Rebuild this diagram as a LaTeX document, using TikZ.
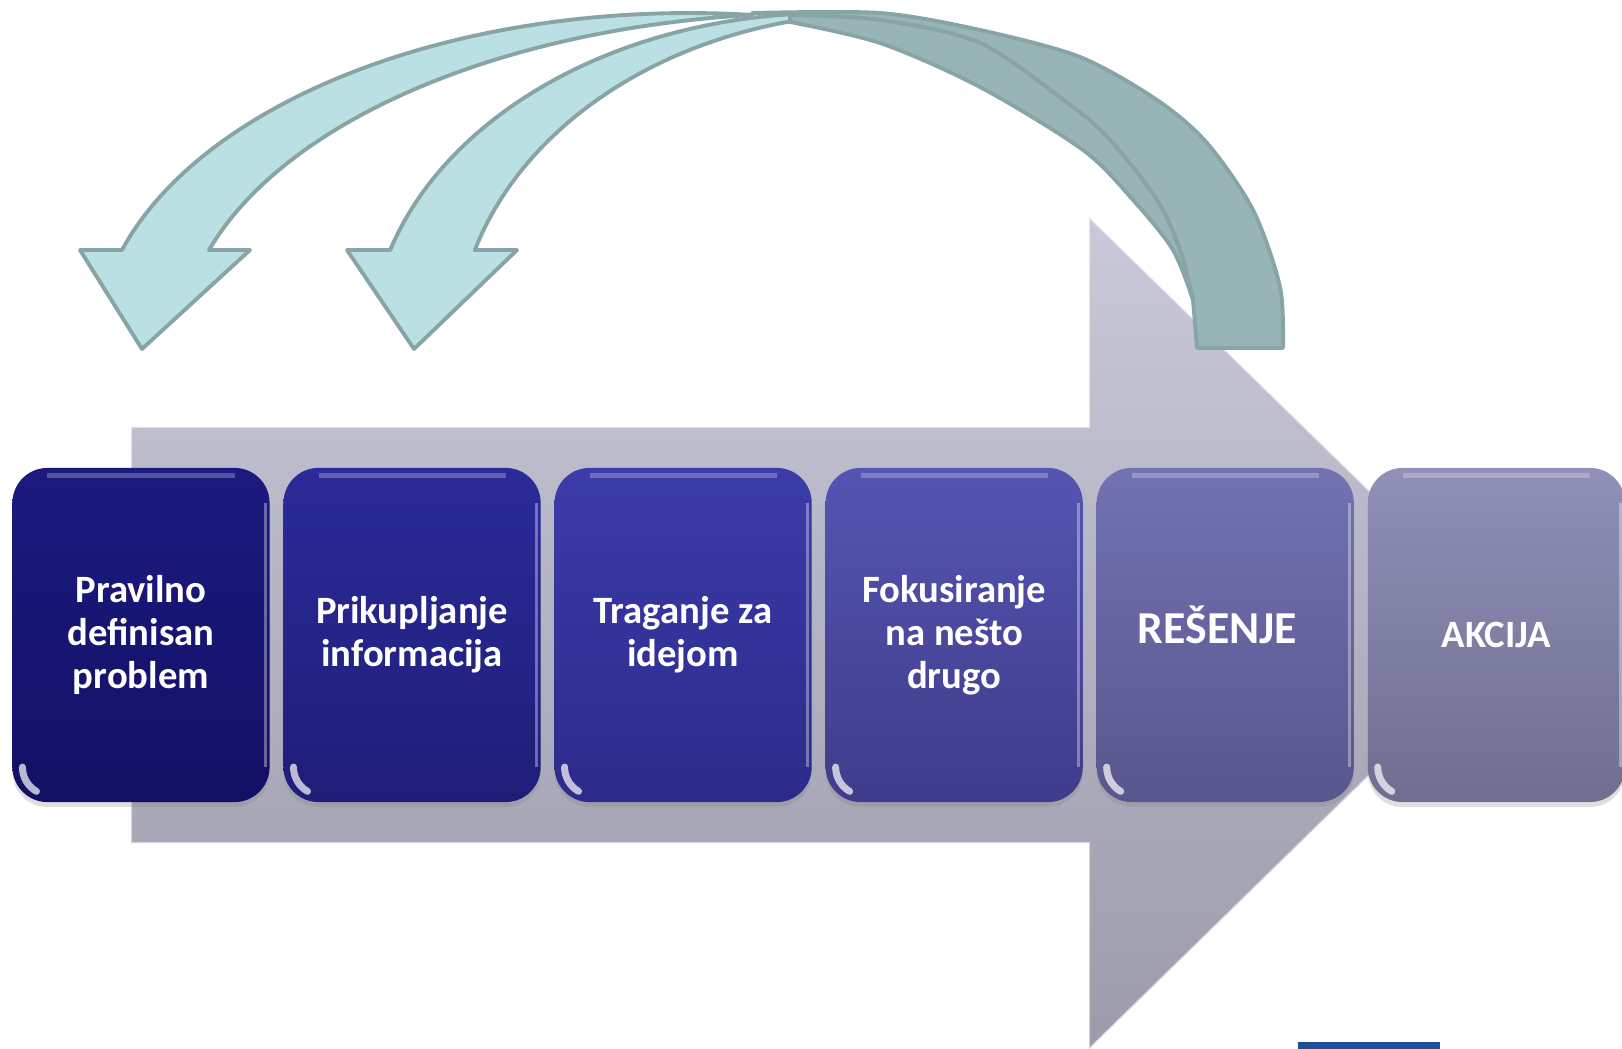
\documentclass[tikz,border=0pt]{standalone}
\usepackage{fontspec}
\setmainfont{Carlito}
\usetikzlibrary{positioning,shadows}

\definecolor{bandlight}{HTML}{BBE0E3}
\definecolor{banddark}{HTML}{97B4B6}
\definecolor{bandline}{HTML}{88A4A7}
\definecolor{flowtop}{HTML}{C9C9D9}
\definecolor{flowbot}{HTML}{9C9BAB}
\definecolor{barblue}{HTML}{1B4F9E}
\definecolor{stepAtop}{HTML}{1C1A80}\definecolor{stepAbot}{HTML}{121064}
\definecolor{stepBtop}{HTML}{2B2B99}\definecolor{stepBbot}{HTML}{1F1D78}
\definecolor{stepCtop}{HTML}{3C3CAA}\definecolor{stepCbot}{HTML}{2C2A8A}
\definecolor{stepDtop}{HTML}{5555B2}\definecolor{stepDbot}{HTML}{3E3C8A}
\definecolor{stepEtop}{HTML}{7372B2}\definecolor{stepEbot}{HTML}{57568E}
\definecolor{stepFtop}{HTML}{9090B8}\definecolor{stepFbot}{HTML}{6F6E90}

\tikzset{
  stepbox/.style={rounded corners=0.35cm, minimum width=2.57cm, minimum height=3.34cm,
    align=center, text=white, font=\bfseries\fontsize{11}{12.3}\selectfont,
    drop shadow={shadow xshift=0pt, shadow yshift=-0.05cm, opacity=0.25},
    path picture={
      \draw[white, opacity=0.25, line width=0.05cm]
        ([xshift=0.35cm, yshift=-0.08cm]path picture bounding box.north west) --
        ([xshift=-0.35cm, yshift=-0.08cm]path picture bounding box.north east);
      \draw[white, opacity=0.35, line width=0.03cm]
        ([xshift=-0.04cm, yshift=-0.35cm]path picture bounding box.north east) --
        ([xshift=-0.04cm, yshift=0.35cm]path picture bounding box.south east);
      \draw[white, opacity=0.7, line width=0.07cm, line cap=round]
        ([xshift=0.1cm, yshift=0.35cm]path picture bounding box.south west)
        arc[start angle=180, end angle=240, radius=0.28cm];
    }},
  tone/.style={top color=#1top, bottom color=#1bot},
  frontband/.style={fill=bandlight, draw=bandline, line width=1.1pt, line join=round},
  backband/.style={fill=banddark, draw=bandline, line width=1.1pt, line join=round},
}

\begin{document}
\begin{tikzpicture}[x=0.01cm, y=-0.01cm]
\useasboundingbox (0,0) rectangle (1622,1049);

% big process arrow behind the steps
\shadedraw[top color=flowtop, bottom color=flowbot, draw=white, draw opacity=0.5, line width=0.6pt]
  (131,427) -- (1089,427) -- (1089,217) -- (1515,633) -- (1089,1049) -- (1089,843) -- (131,843) -- cycle;

% blue bar at the bottom edge
\fill[barblue] (1298,1042) rectangle (1440,1049);

% steps
\node[stepbox, tone=stepA] (b1) at (141,635) {Pravilno\\definisan\\problem};
\node[stepbox, tone=stepB, right=0.125cm of b1] (b2) {Prikupljanje\\informacija};
\node[stepbox, tone=stepC, right=0.125cm of b2] (b3) {Traganje za\\idejom};
\node[stepbox, tone=stepD, right=0.125cm of b3] (b4) {Fokusiranje\\na nešto\\drugo};
\node[stepbox, tone=stepE, right=0.125cm of b4,
      font=\bfseries\fontsize{13}{15}\selectfont] (b5) {\raisebox{0.2cm}{REŠENJE}\hspace*{0.16cm}};
\node[stepbox, tone=stepF, right=0.125cm of b5] (b6) {AKCIJA};

% back faces of the curved arrows
\path[backband] plot[smooth] coordinates {(752,13) (880,13) (980,30) (1080,57) (1157,100) (1207,143) (1253,210) (1280,287) (1283,348)}
  -- (1197,348) -- plot[smooth] coordinates {(1193,300) (1180,250) (1157,200) (1110,140) (1070,105) (980,43) (880,20) (790,15)} -- cycle;
\path[backband] plot[smooth] coordinates {(790,15) (880,20) (980,43) (1070,105) (1110,140) (1157,200) (1180,250) (1193,300)}
  -- plot[smooth] coordinates {(1193,300) (1173,250) (1133,200) (1083,150) (980,87) (880,43) (785,21)} -- cycle;

% front faces with heads
\path[frontband] (347,250)
  -- plot[domain=163:95, samples=40] ({830+460*cos(\x)}, {348-335*sin(\x)})
  -- plot[domain=102.9:163, samples=40] ({886+430*cos(\x)}, {348-335*sin(\x)})
  -- (517,250) -- (414,349) -- cycle;
\path[frontband] (80,250)
  -- plot[domain=163:83.9, samples=50] ({689+593*cos(\x)}, {348-335*sin(\x)})
  -- plot[domain=96.1:163, samples=50] ({821+640*cos(\x)}, {348-335*sin(\x)})
  -- (250,250) -- (142,349) -- cycle;
\end{tikzpicture}
\end{document}
